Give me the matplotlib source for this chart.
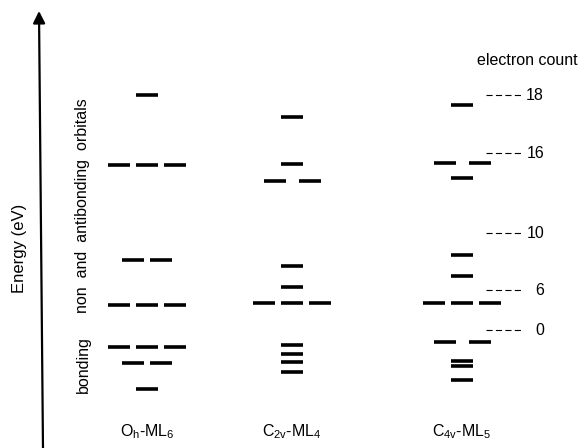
import matplotlib
matplotlib.use("Agg")
from matplotlib import pyplot as plt

plt.rcParams['font.family'] = ['Liberation Sans', 'DejaVu Sans']
plt.rcParams['mathtext.fontset'] = 'custom'
plt.rcParams['mathtext.rm'] = 'Liberation Sans'
plt.rcParams['mathtext.default'] = 'rm'

# orbital energies (arbitrary units) and degeneracy for each fragment
names = [r'O$_h$-ML$_6$', r'C$_{2v}$-ML$_4$', r'C$_{4v}$-ML$_5$']
oh_energy = [353, 283, 188, 143, 101, 85, 59]
oh_degen = [1, 3, 2, 3, 3, 2, 1]
c2v_energy = [331, 284, 267, 182, 161, 145, 103, 94, 86, 76]
c2v_degen = [1, 1, 2, 1, 1, 3, 1, 1, 1, 1]
c4v_energy = [343, 285, 270, 193, 172, 145, 106, 87, 82, 68]
c4v_degen = [1, 2, 1, 1, 1, 3, 2, 1, 1, 1]

# electron count markers
count_labels = ['18', '16', '10', '6', '0']
count_energy = [353, 295, 215, 158, 118]


def draw_levels(ax, xc, energies, degens, pair_gap):
    w = 22
    for e, d in zip(energies, degens):
        if d == 1:
            offs = [0]
        elif d == 2:
            offs = [-pair_gap / 2, pair_gap / 2]
        else:
            offs = [-28, 0, 28]
        for o in offs:
            ax.plot([xc + o - w / 2, xc + o + w / 2], [e, e], color='black',
                    lw=2.6, solid_capstyle='butt')


def main():
    fig = plt.figure(figsize=(5.81, 4.48), dpi=100)
    ax = fig.add_axes([0, 0, 1, 1])
    ax.set_xlim(0, 581)
    ax.set_ylim(0, 448)
    ax.axis('off')

    columns = [(147, oh_energy, oh_degen, 28),
               (292, c2v_energy, c2v_degen, 35),
               (462, c4v_energy, c4v_degen, 35)]
    for (xc, en, dg, gap), name in zip(columns, names):
        draw_levels(ax, xc, en, dg, gap)
        ax.text(xc, 16, name, ha='center', va='center', fontsize=11.5)

    # energy axis arrow
    ax.annotate('', xy=(39, 437), xytext=(43, -2),
                arrowprops=dict(arrowstyle='-|>', lw=1.6, color='black',
                                mutation_scale=18, shrinkA=0, shrinkB=0))
    ax.text(20, 200, 'Energy (eV)', rotation=90, ha='center', va='center',
            fontsize=12)
    ax.text(83, 83, 'bonding', rotation=90, ha='center', va='center',
            fontsize=11.5)
    ax.text(83, 242, 'non  and  antibonding  orbitals', rotation=90,
            ha='center', va='center', fontsize=11.5)

    ax.text(527, 388, 'electron count', ha='center', va='center', fontsize=11.5)
    for lab, e in zip(count_labels, count_energy):
        ax.plot([486, 521], [e, e], color='black', lw=0.8, dashes=(5.5, 3))
        ax.text(544, e, lab, ha='right', va='center', fontsize=11.5)

    plt.savefig('out.png', dpi=100)


if __name__ == "__main__":
    main()
